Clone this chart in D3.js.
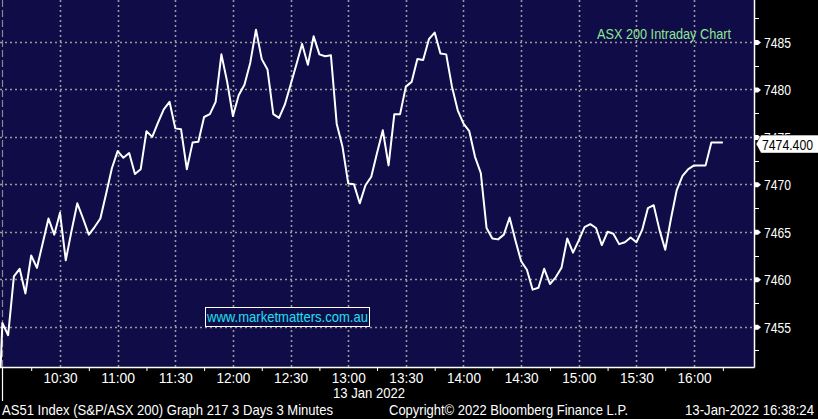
<!DOCTYPE html>
<html><head><meta charset="utf-8">
<script src="https://cdn.jsdelivr.net/npm/d3@7"></script>
<style>html,body{margin:0;padding:0;background:#000;overflow:hidden;} svg{display:block;}</style>
</head><body><svg id="c" width="818" height="419"></svg>
<script>
// ---- data (3-minute bars, 13 Jan 2022, from 10:00) ----
const values = [
7455.4,7454.1,7460.3,7461.1,7458.5,7462.5,7461.2,7463.8,7466.4,7464.7,
7467.0,7462.0,7465.1,7468.0,7466.4,7464.7,7465.5,7466.4,7469.0,7471.7,
7473.5,7472.8,7473.3,7471.1,7471.6,7475.6,7475.0,7476.5,7477.9,7478.7,
7475.9,7475.8,7471.6,7474.4,7474.5,7477.1,7477.4,7478.7,7483.7,7480.8,
7477.2,7479.4,7480.5,7482.8,7486.3,7483.2,7482.1,7477.4,7477.0,7478.4,
7480.5,7482.6,7484.8,7482.6,7485.6,7483.7,7483.5,7483.6,7476.4,7474.0,
7470.1,7470.0,7468.0,7469.9,7470.8,7473.3,7475.7,7472.0,7477.4,7477.4,
7480.3,7480.8,7483.2,7483.1,7485.3,7486.0,7483.8,7483.7,7480.3,7477.8,
7476.4,7475.6,7472.9,7471.2,7465.4,7464.3,7464.2,7464.7,7466.5,7464.1,
7461.9,7461.0,7458.9,7459.1,7461.1,7459.5,7460.2,7461.2,7464.3,7462.8,
7464.1,7465.5,7465.8,7465.4,7463.6,7465.0,7464.8,7463.7,7463.9,7464.4,
7463.9,7465.2,7467.5,7467.8,7465.2,7463.1,7466.4,7469.4,7470.9,7471.6,
7472.0,7472.0,7472.0,7474.4,7474.4,7474.4
];
const previousSessionValue = 7440;        // last bar before the session (off-screen)
const sessionStart = [2022,0,13,10,0];
const barMinutes = 3;
const xLabelTimes = ["10:30","11:00","11:30","12:00","12:30","13:00","13:30","14:00","14:30","15:00","15:30","16:00"];
const xMinorTimes = ["10:15","10:45","11:15","11:45","12:15","12:45","13:15","13:45","14:15","14:45","15:15","15:45","16:15"];
const yTickValues = [7455,7460,7465,7470,7475,7480,7485];
const yMinorValues = [7452.5,7457.5,7462.5,7467.5,7472.5,7477.5,7482.5,7487.5];
const lastPrice = 7474.4;
const dateLabel = "13 Jan 2022";
const title = "ASX 200 Intraday Chart";
const watermark = "www.marketmatters.com.au";
const footerLeft = "AS51 Index (S&P/ASX 200) Graph 217 3 Days 3 Minutes";
const footerMid = "Copyright\u00A9 2022 Bloomberg Finance L.P.";
const footerRight = "13-Jan-2022 16:38:24";

// ---- layout ----
const W = 818, H = 419, PW = 754, PH = 367;
const FONT = "'Liberation Sans',Arial,sans-serif";
const fit = (sel, w) => sel.attr("textLength", w).attr("lengthAdjust", "spacingAndGlyphs");
const t = (hm) => { const [h,m] = hm.split(":").map(Number); return new Date(2022,0,13,h,m); };
const start = new Date(...sessionStart);
const pts = [{time:new Date(start.getTime()-barMinutes*60000), v:previousSessionValue}]
  .concat(values.map((v,i)=>({time:new Date(start.getTime()+i*barMinutes*60000), v})));

const x = d3.scaleTime()
  .domain([new Date(2022,0,13,9,58,46), new Date(2022,0,13,16,31,12)])
  .range([0, PW]);
const y = d3.scaleLinear().domain([7450.75, 7489.43]).range([PH, 0]);

const svg = d3.select("#c");
svg.append("rect").attr("width",W).attr("height",H).attr("fill","#000");
svg.append("rect").attr("width",PW).attr("height",PH).attr("fill","#0f0c48");

svg.append("defs").append("clipPath").attr("id","clip")
  .append("rect").attr("width",PW).attr("height",PH);

// grid
const grid = svg.append("g").attr("stroke","#9a9a9a").attr("stroke-width",1.6).attr("stroke-dasharray","2,3");
grid.selectAll("line.h").data(yTickValues).join("line")
  .attr("x1",0).attr("x2",PW).attr("y1",d=>Math.round(y(d))+0.5).attr("y2",d=>Math.round(y(d))+0.5);
grid.selectAll("line.v").data(xLabelTimes).join("line")
  .attr("x1",d=>Math.round(x(t(d)))+0.5).attr("x2",d=>Math.round(x(t(d)))+0.5).attr("y1",0).attr("y2",PH);
// session boundary
svg.append("line").attr("x1",Math.round(x(start))+0.5).attr("x2",Math.round(x(start))+0.5)
  .attr("y1",0).attr("y2",PH).attr("stroke","#8a8a8a").attr("stroke-width",1.2).attr("stroke-dasharray","7,3");

// price line
const line = d3.line().x(d=>x(d.time)).y(d=>y(d.v));
svg.append("path").datum(pts).attr("clip-path","url(#clip)")
  .attr("d",line).attr("fill","none").attr("stroke","#ffffff").attr("stroke-width",2).attr("stroke-linejoin","round");

// axes lines
svg.append("line").attr("x1",0).attr("x2",PW+0.5).attr("y1",PH+0.5).attr("y2",PH+0.5).attr("stroke","#fff").attr("stroke-width",1.5);
svg.append("line").attr("x1",PW+0.5).attr("x2",PW+0.5).attr("y1",0).attr("y2",PH+0.5).attr("stroke","#fff").attr("stroke-width",1.5);

// x axis labels
const xAxis = d3.axisBottom(x).tickValues(xLabelTimes.map(t)).tickFormat(d3.timeFormat("%H:%M")).tickSize(0).tickPadding(5);
const gx = svg.append("g").attr("transform",`translate(0,${PH})`).call(xAxis);
gx.select(".domain").remove();
gx.selectAll("text").attr("fill","#fff").attr("font-family",FONT).attr("font-size",15);
fit(gx.selectAll("text"), 34);
const xMinor = d3.axisBottom(x).tickValues(xMinorTimes.map(t)).tickFormat("").tickSize(4);
const gxm = svg.append("g").attr("transform",`translate(0,${PH})`).call(xMinor);
gxm.select(".domain").remove();
gxm.selectAll("line").attr("stroke","#fff");
svg.append("line").attr("x1",Math.round(x(start))+0.5).attr("x2",Math.round(x(start))+0.5)
  .attr("y1",PH).attr("y2",401).attr("stroke","#fff").attr("stroke-width",1.2);
fit(svg.append("text").attr("x",333).attr("y",398)
  .attr("fill","#fff").attr("font-family",FONT).attr("font-size",15).text(dateLabel), 72);

// y axis
const yAxis = d3.axisRight(y).tickValues(yTickValues).tickFormat(d3.format("d")).tickSize(0).tickPadding(10);
const gy = svg.append("g").attr("transform",`translate(${PW},0)`).call(yAxis);
gy.select(".domain").remove();
gy.selectAll("text").attr("fill","#fff").attr("font-family",FONT).attr("font-size",15).attr("dy","0.36em");
fit(gy.selectAll("text"), 27);
gy.selectAll(".tick").append("path").attr("d","M0,-2.5H4L7,0L4,2.5H0Z").attr("fill","#fff");
svg.append("g").selectAll("line").data(yMinorValues).join("line")
  .attr("x1",PW).attr("x2",PW+5).attr("y1",d=>Math.round(y(d))+0.5).attr("y2",d=>Math.round(y(d))+0.5)
  .attr("stroke","#fff").attr("stroke-width",1);

// last price marker
const ly = y(lastPrice) + 1.5;
svg.append("path").attr("d",`M${PW+2},${ly} L${PW+7},${ly-9} H${W+2} V${ly+9} H${PW+7} Z`)
  .attr("fill","#fff").attr("stroke","#000").attr("stroke-width",0.5);
fit(svg.append("text").attr("x",762).attr("y",ly).attr("dy","0.36em")
  .attr("fill","#000").attr("font-family",FONT).attr("font-size",15).text(d3.format(".3f")(lastPrice)), 51);

// title
fit(svg.append("text").attr("x",597).attr("y",39)
  .attr("fill","#8fe88f").attr("font-family",FONT).attr("font-size",15).text(title), 134);

// watermark
svg.append("rect").attr("x",205.5).attr("y",307.5).attr("width",164).attr("height",19)
  .attr("fill","#0f0c48").attr("stroke","#fff").attr("stroke-width",1);
fit(svg.append("text").attr("x",207).attr("y",317).attr("dy","0.36em")
  .attr("fill","#20e0f0").attr("font-family",FONT).attr("font-size",15).text(watermark), 161);

// footer
const foot = svg.append("g").attr("fill","#fff").attr("font-family",FONT).attr("font-size",15);
fit(foot.append("text").attr("x",2).attr("y",415).text(footerLeft), 331);
fit(foot.append("text").attr("x",389).attr("y",415).text(footerMid), 239);
fit(foot.append("text").attr("x",685).attr("y",415).text(footerRight), 129);
</script>
</body></html>
